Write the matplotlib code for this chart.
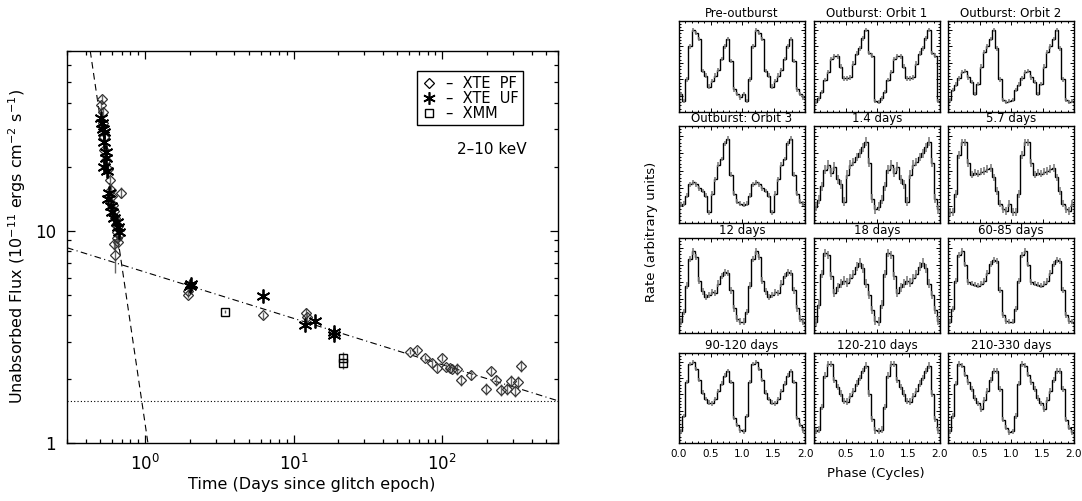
"""Outburst flux decay and pulse-profile evolution figure."""
import numpy as np
import matplotlib
matplotlib.use("Agg")
import matplotlib.pyplot as plt
from matplotlib.lines import Line2D
from matplotlib.ticker import MultipleLocator, NullFormatter, FuncFormatter

plt.rcParams["font.family"] = ["DejaVu Sans"]

W, H = 1082, 501

# XTE PCA pointed (PF) fluxes, 2-10 keV, units of 1e-11 erg/cm2/s
pf_time = [0.515, 0.51, 0.52, 0.525, 0.53, 0.535, 0.545, 0.57, 0.585, 0.59,
           0.60, 0.61, 0.62, 0.63, 0.64, 0.65, 0.655, 0.66, 0.62, 0.635,
           0.69, 0.665, 0.67,
           1.95, 1.95, 6.2, 12.2, 12.4, 60.8, 67.8, 76.8, 85.7, 91.8,
           100, 106, 112, 117, 126, 134, 155, 198, 214, 229, 247, 274,
           288, 306, 322, 336]
pf_flux = [41.5, 38.8, 36.0, 32.0, 27.5, 24.0, 21.5, 19.4, 17.3, 15.5,
           14.5, 13.2, 12.3, 11.4, 10.6, 9.8, 9.2, 8.8, 8.6, 7.7,
           15.1, 10.5, 9.5,
           5.2, 5.0, 4.0, 4.1, 3.9, 2.69, 2.74, 2.52, 2.39, 2.26,
           2.52, 2.28, 2.26, 2.23, 2.23, 1.98, 2.09, 1.80, 2.19, 1.98, 1.78, 1.80,
           1.96, 1.76, 1.94, 2.31]
pf_err = [2.0, 1.8, 1.6, 1.5, 1.3, 1.2, 1.0, 0.9, 0.8, 0.8,
          0.7, 0.7, 0.7, 0.6, 0.6, 0.8, 0.6, 0.6, 0.5, 1.4,
          0.9, 0.6, 0.6,
          0.2, 0.2, 0.15, 0.2, 0.2, 0.08, 0.1, 0.08, 0.1, 0.1,
          0.1, 0.08, 0.08, 0.08, 0.15, 0.12, 0.1, 0.12, 0.1, 0.12, 0.12, 0.12,
          0.12, 0.12, 0.12, 0.15]

# XTE unpointed / slew (UF) fluxes
uf_time = [0.51, 0.515, 0.52, 0.53, 0.535, 0.545, 0.55, 0.53, 0.56, 0.57,
           0.575, 0.59, 0.60, 0.62, 0.65, 0.66, 0.67,
           2.0, 2.05, 6.2, 12.0, 13.9, 18.6, 18.8]
uf_flux = [34.0, 32.0, 30.0, 29.0, 26.0, 23.3, 22.0, 20.0, 19.0, 14.0,
           15.0, 13.0, 12.2, 11.5, 11.0, 10.4, 9.8,
           5.5, 5.6, 4.94, 3.6, 3.76, 3.34, 3.23]

# XMM-Newton fluxes
xmm_time = [3.47, 21.4, 21.4]
xmm_flux = [4.15, 2.52, 2.38]
xmm_err = [0.08, 0.15, 0.15]

# model components: fast early decay, slow power-law decay, quiescent level
fast_time = [0.43, 1.05]
fast_flux = [70.0, 1.0]
slow_time = [0.3, 600.0]
slow_flux = [8.3, 1.58]
quiescent_flux = 1.58

# folded pulse profiles, 20 phase bins per cycle (normalised rate)
prof_pre = [0.20, 0.12, 0.36, 0.72, 0.90, 0.87, 0.80, 0.45, 0.40, 0.28,
            0.34, 0.40, 0.46, 0.58, 0.72, 0.80, 0.56, 0.25, 0.20, 0.16]
prof_orbit1 = [0.11, 0.15, 0.22, 0.35, 0.44, 0.58, 0.61, 0.61, 0.50, 0.37,
               0.37, 0.38, 0.53, 0.64, 0.70, 0.81, 0.90, 0.65, 0.62, 0.12]
prof_orbit2 = [0.13, 0.24, 0.30, 0.37, 0.44, 0.45, 0.38, 0.33, 0.20, 0.31,
               0.50, 0.66, 0.72, 0.80, 0.90, 0.70, 0.36, 0.13, 0.11, 0.12]
prof_orbit3 = [0.19, 0.20, 0.28, 0.40, 0.42, 0.40, 0.36, 0.33, 0.28, 0.11,
               0.30, 0.45, 0.60, 0.66, 0.82, 0.87, 0.50, 0.30, 0.22, 0.20]
prof_1p4d = [0.17, 0.24, 0.38, 0.55, 0.60, 0.52, 0.58, 0.45, 0.40, 0.22,
             0.50, 0.60, 0.63, 0.68, 0.72, 0.78, 0.84, 0.62, 0.25, 0.14]
prof_5p7d = [0.11, 0.11, 0.30, 0.70, 0.83, 0.83, 0.62, 0.50, 0.52, 0.51,
             0.53, 0.54, 0.56, 0.57, 0.47, 0.33, 0.20, 0.14, 0.12, 0.20]
prof_12d = [0.12, 0.22, 0.50, 0.78, 0.86, 0.80, 0.55, 0.44, 0.38, 0.40,
            0.43, 0.42, 0.52, 0.60, 0.64, 0.63, 0.45, 0.26, 0.15, 0.12]
prof_18d = [0.12, 0.30, 0.62, 0.84, 0.82, 0.60, 0.42, 0.48, 0.52, 0.55,
            0.53, 0.58, 0.62, 0.70, 0.74, 0.68, 0.52, 0.40, 0.24, 0.13]
prof_60d = [0.12, 0.25, 0.55, 0.82, 0.86, 0.72, 0.54, 0.52, 0.51, 0.50,
            0.52, 0.55, 0.63, 0.73, 0.77, 0.76, 0.45, 0.19, 0.13, 0.12]
prof_90d = [0.13, 0.30, 0.68, 0.88, 0.90, 0.82, 0.70, 0.56, 0.49, 0.45,
            0.44, 0.49, 0.58, 0.66, 0.75, 0.80, 0.68, 0.28, 0.20, 0.14]
prof_120d = [0.13, 0.15, 0.40, 0.75, 0.88, 0.88, 0.70, 0.62, 0.55, 0.47,
             0.46, 0.52, 0.58, 0.66, 0.72, 0.80, 0.86, 0.55, 0.27, 0.14]
prof_210d = [0.13, 0.30, 0.66, 0.88, 0.86, 0.76, 0.68, 0.60, 0.50, 0.44,
             0.38, 0.48, 0.58, 0.70, 0.80, 0.80, 0.60, 0.26, 0.17, 0.12]

profile_titles = ["Pre-outburst", "Outburst: Orbit 1", "Outburst: Orbit 2",
                  "Outburst: Orbit 3", "1.4 days", "5.7 days",
                  "12 days", "18 days", "60-85 days",
                  "90-120 days", "120-210 days", "210-330 days"]
profiles = [prof_pre, prof_orbit1, prof_orbit2, prof_orbit3, prof_1p4d, prof_5p7d,
            prof_12d, prof_18d, prof_60d, prof_90d, prof_120d, prof_210d]
profile_err = [0.025, 0.025, 0.025, 0.025, 0.045, 0.04,
               0.035, 0.045, 0.03, 0.025, 0.035, 0.03]

fig = plt.figure(figsize=(W / 100, H / 100), dpi=100)

# ---- left: flux decay ----
ax = fig.add_axes([67 / W, (H - 443) / H, (558 - 67) / W, (443 - 51) / H])
ax.set_xscale("log")
ax.set_yscale("log")

ax.plot(fast_time, fast_flux, color="k", lw=0.8, ls=(0, (6, 4)))
ax.plot(slow_time, slow_flux, color="k", lw=0.8, ls=(0, (6, 3, 1, 3)))
ax.axhline(quiescent_flux, color="k", lw=0.8, ls=(0, (1, 2)))

ax.errorbar(pf_time, pf_flux, yerr=pf_err, fmt="D", ms=5, mfc="none",
            mec="#333333", mew=0.9, ecolor="#666666", elinewidth=1, capsize=0, zorder=3)
ax.plot(uf_time, uf_flux, ls="none", marker=(6, 2, 0), ms=10, mec="k", mew=1.3, zorder=4)
ax.errorbar(xmm_time, xmm_flux, yerr=xmm_err, fmt="s", ms=6, mfc="none",
            mec="k", mew=1, ecolor="#555555", elinewidth=1, capsize=0, zorder=3)

ax.set_xlim(0.3, 600)
ax.set_ylim(1, 70)
ax.set_yticks([1, 10])
ax.set_yticklabels(["1", "10"])
ax.yaxis.set_minor_formatter(NullFormatter())
ax.xaxis.set_minor_formatter(NullFormatter())
ax.tick_params(which="both", direction="in", top=True, right=True, labelsize=12, width=0.9)
ax.tick_params(which="major", length=6, pad=8)
ax.tick_params(which="minor", length=3)
for sp in ax.spines.values():
    sp.set_linewidth(1)

handles = [
    Line2D([], [], ls="none", marker="D", ms=5, mfc="none", mec="k", mew=0.9),
    Line2D([], [], ls="none", marker=(6, 2, 0), ms=9, mec="k", mew=1.2),
    Line2D([], [], ls="none", marker="s", ms=6, mfc="none", mec="k", mew=1),
]
leg = ax.legend(handles, ["\u2013  XTE  PF", "\u2013  XTE  UF", "\u2013  XMM"],
                loc="upper left", bbox_to_anchor=(0.713, 0.948), fontsize=10.5,
                frameon=True, fancybox=False, edgecolor="k", framealpha=1,
                handlelength=1.0, handletextpad=0.7, borderpad=0.3,
                labelspacing=0.0, borderaxespad=0)
leg.get_frame().set_linewidth(1)
ax.text(0.865, 0.75, "2\u201310 keV", transform=ax.transAxes, ha="center", va="center",
        fontsize=11)

fig.text(312 / W, 1 - 485 / H, "Time (Days since glitch epoch)", ha="center", va="center",
         fontsize=11.5)
fig.text(17 / W, 1 - 247 / H, "Unabsorbed Flux (10$^{-11}$ ergs cm$^{-2}$ s$^{-1}$)",
         rotation=90, ha="center", va="center", fontsize=11.5)

# ---- right: pulse profiles ----
col_left = [679, 814, 948]
panel_w = 126
row_top = [21, 126, 238, 353]
row_bottom = [112, 223, 333, 443]

edges = np.linspace(0, 2, 41)
centers = 0.5 * (edges[:-1] + edges[1:])

for i, (title, prof) in enumerate(zip(profile_titles, profiles)):
    r, c = divmod(i, 3)
    pax = fig.add_axes([col_left[c] / W, (H - row_bottom[r]) / H,
                        panel_w / W, (row_bottom[r] - row_top[r]) / H])
    vals = np.tile(prof, 2)
    err = profile_err[i]
    pax.vlines(centers, vals - err, vals + err, color="0.5", lw=1.2)
    pax.stairs(vals, edges, color="k", lw=1.0)
    pax.set_xlim(0, 2)
    pax.set_ylim(0, 1)
    pax.xaxis.set_major_locator(MultipleLocator(0.5))
    pax.xaxis.set_minor_locator(MultipleLocator(0.1))
    pax.yaxis.set_major_locator(MultipleLocator(0.18))
    pax.yaxis.set_minor_locator(MultipleLocator(0.036))
    pax.tick_params(which="both", direction="in", top=True, right=True, width=0.7)
    pax.tick_params(which="major", length=3)
    pax.tick_params(which="minor", length=1.5)
    pax.set_yticklabels([])
    if r == 3:
        if c == 0:
            fmt = FuncFormatter(lambda v, p: f"{v:.1f}")
        else:
            fmt = FuncFormatter(lambda v, p: "" if v < 0.01 else f"{v:.1f}")
        pax.xaxis.set_major_formatter(fmt)
        pax.tick_params(axis="x", labelsize=7.5, pad=4)
    else:
        pax.set_xticklabels([])
    for sp in pax.spines.values():
        sp.set_linewidth(1)
    pax.set_title(title, fontsize=8.5, pad=3)

fig.text(651 / W, 1 - 232 / H, "Rate (arbitrary units)", rotation=90,
         ha="center", va="center", fontsize=9.5)
fig.text(876 / W, 1 - 473 / H, "Phase (Cycles)", ha="center", va="center", fontsize=9.5)

fig.savefig("out.png", dpi=100)
